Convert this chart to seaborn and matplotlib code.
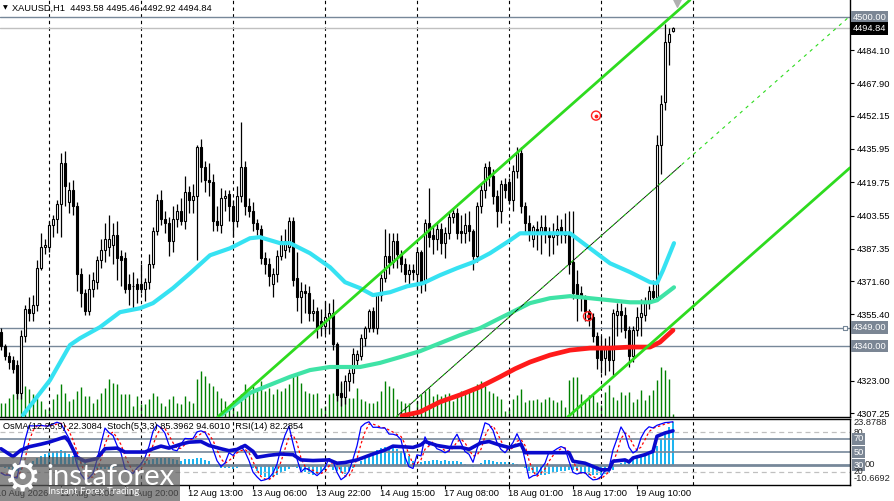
import numpy as np
import pandas as pd
import matplotlib
matplotlib.use("Agg")
import matplotlib.pyplot as plt
import matplotlib.transforms as mtrans
from matplotlib.patches import Rectangle
import seaborn as sns

sns.set_theme(style="white")
plt.rcParams["font.family"] = ["Liberation Sans", "DejaVu Sans"]

# ---------------- data ----------------
symbol = "XAUUSD,H1"
last_ohlc = [4493.58, 4495.46, 4492.92, 4494.84]

opens = [4347, 4340, 4335, 4333, 4331, 4317, 4345, 4358, 4356, 4360,
         4378, 4388, 4388, 4399, 4402, 4409, 4429, 4410, 4416, 4408,
         4375, 4366, 4357, 4368, 4371, 4382, 4387, 4388, 4389, 4394,
         4384, 4383, 4370, 4369, 4370, 4370, 4368, 4371, 4380, 4396,
         4411, 4402, 4400, 4391, 4402, 4406, 4401, 4415, 4411, 4413,
         4437, 4427, 4421, 4420, 4401, 4399, 4412, 4414, 4408, 4401,
         4413, 4427, 4408, 4406, 4400, 4397, 4383, 4380, 4370, 4375,
         4384, 4387, 4388, 4401, 4373, 4364, 4367, 4366, 4356, 4357,
         4352, 4350, 4354, 4356, 4341, 4317, 4315, 4323, 4327, 4333,
         4335, 4344, 4349, 4357, 4349, 4365, 4373, 4384, 4381, 4391,
         4385, 4380, 4375, 4377, 4375, 4386, 4371, 4400, 4394, 4392,
         4397, 4390, 4395, 4403, 4405, 4396, 4395, 4399, 4396, 4384,
         4408, 4416, 4427, 4423, 4413, 4406, 4419, 4420, 4411, 4425,
         4434, 4408, 4400, 4392, 4397, 4395, 4398, 4395, 4393, 4394,
         4398, 4395, 4395, 4381, 4370, 4366, 4364, 4357, 4354, 4345,
         4338, 4334, 4338, 4333, 4355, 4357, 4355, 4348, 4335, 4348,
         4354, 4355, 4361, 4367, 4364, 4438, 4459, 4488, 4493.58]
highs = [4349, 4341, 4337, 4335, 4333, 4348, 4360, 4364, 4365, 4382,
         4395, 4392, 4401, 4404, 4411, 4434, 4435, 4420, 4421, 4410,
         4378, 4368, 4375, 4376, 4384, 4392, 4400, 4404, 4400, 4401,
         4387, 4386, 4375, 4376, 4373, 4380, 4373, 4385, 4398, 4414,
         4416, 4406, 4403, 4408, 4409, 4412, 4423, 4418, 4419, 4438,
         4441, 4430, 4429, 4424, 4408, 4417, 4416, 4416, 4411, 4418,
         4449, 4430, 4412, 4410, 4402, 4399, 4386, 4383, 4378, 4387,
         4394, 4397, 4403, 4403, 4386, 4371, 4370, 4369, 4363, 4359,
         4358, 4362, 4361, 4363, 4342, 4323, 4326, 4329, 4339, 4338,
         4346, 4350, 4358, 4359, 4366, 4375, 4397, 4395, 4395, 4395,
         4387, 4383, 4380, 4380, 4388, 4387, 4402, 4417, 4398, 4400,
         4400, 4398, 4405, 4407, 4407, 4404, 4405, 4406, 4397, 4410,
         4419, 4429, 4430, 4426, 4416, 4421, 4422, 4422, 4428, 4437,
         4437, 4410, 4404, 4399, 4401, 4404, 4404, 4398, 4400, 4404,
         4402, 4405, 4406, 4406, 4377, 4369, 4365, 4358, 4356, 4347,
         4345, 4344, 4345, 4358, 4361, 4361, 4359, 4350, 4350, 4359,
         4363, 4364, 4369, 4372, 4443, 4462, 4497, 4495, 4495.46]
lows = [4338, 4333, 4329, 4327, 4314, 4314, 4342, 4352, 4352, 4357,
        4377, 4385, 4386, 4393, 4395, 4393, 4408, 4405, 4404, 4367,
        4359, 4355, 4355, 4364, 4368, 4378, 4381, 4384, 4380, 4372,
        4369, 4366, 4360, 4358, 4361, 4366, 4362, 4368, 4378, 4394,
        4399, 4395, 4384, 4386, 4398, 4399, 4397, 4405, 4405, 4382,
        4420, 4415, 4413, 4396, 4396, 4395, 4406, 4401, 4393, 4398,
        4410, 4404, 4403, 4396, 4394, 4380, 4375, 4369, 4364, 4371,
        4382, 4383, 4386, 4369, 4357, 4351, 4356, 4352, 4352, 4344,
        4345, 4346, 4346, 4338, 4313, 4311, 4312, 4318, 4322, 4330,
        4333, 4340, 4347, 4347, 4346, 4362, 4371, 4375, 4378, 4378,
        4376, 4371, 4369, 4372, 4368, 4366, 4367, 4388, 4385, 4387,
        4385, 4383, 4392, 4400, 4392, 4390, 4390, 4391, 4377, 4381,
        4405, 4412, 4418, 4409, 4398, 4400, 4412, 4409, 4406, 4422,
        4405, 4395, 4391, 4388, 4387, 4385, 4390, 4384, 4385, 4389,
        4390, 4390, 4375, 4363, 4352, 4357, 4352, 4350, 4342, 4329,
        4327, 4326, 4328, 4326, 4345, 4347, 4344, 4330, 4332, 4345,
        4345, 4352, 4358, 4362, 4362, 4424, 4455, 4477, 4492.92]
closes = [4340, 4335, 4332, 4329, 4317, 4345, 4358, 4356, 4360, 4378,
          4388, 4389, 4399, 4402, 4409, 4429, 4418, 4416, 4408, 4375,
          4366, 4357, 4368, 4372, 4382, 4387, 4392, 4392, 4394, 4383,
          4382, 4368, 4368, 4369, 4368, 4368, 4371, 4380, 4396, 4411,
          4402, 4400, 4391, 4402, 4406, 4401, 4415, 4411, 4413, 4437,
          4427, 4421, 4420, 4401, 4399, 4412, 4413, 4408, 4401, 4413,
          4427, 4408, 4406, 4400, 4397, 4383, 4380, 4374, 4375, 4384,
          4391, 4391, 4401, 4372, 4364, 4367, 4366, 4356, 4357, 4349,
          4350, 4354, 4356, 4341, 4316, 4315, 4323, 4327, 4336, 4336,
          4344, 4349, 4357, 4349, 4365, 4373, 4384, 4381, 4391, 4385,
          4380, 4375, 4377, 4376, 4386, 4371, 4400, 4393, 4392, 4397,
          4390, 4395, 4403, 4405, 4395, 4395, 4399, 4396, 4384, 4408,
          4416, 4427, 4423, 4413, 4406, 4419, 4416, 4411, 4425, 4434,
          4408, 4400, 4395, 4398, 4395, 4398, 4395, 4393, 4395, 4397,
          4395, 4394, 4380, 4366, 4365, 4364, 4357, 4353, 4345, 4334,
          4333, 4339, 4333, 4356, 4357, 4355, 4348, 4335, 4348, 4354,
          4356, 4361, 4367, 4364, 4438, 4458, 4488, 4492, 4494.84]
volumes = [1430, 1430, 1930, 2270, 3430, 3430, 3100, 2770, 2270, 1930,
           1600, 770, 930, 1770, 2270, 3330, 2430, 1600, 1770, 2600,
           3030, 2100, 2100, 1430, 1770, 2430, 2930, 3770, 3430, 3270,
           2270, 2270, 2270, 1100, 2100, 1270, 1270, 1770, 2430, 2100,
           1430, 1100, 1770, 2100, 1430, 1270, 2100, 1600, 1430, 3770,
           4600, 4100, 3430, 3100, 2600, 1930, 1600, 930, 1600, 600,
           2270, 3270, 2270, 3100, 2600, 3600, 2600, 2930, 2270, 2770,
           2600, 2930, 3270, 4270, 4430, 3430, 2600, 2430, 2270, 2430,
           930, 1100, 2270, 2430, 3270, 3430, 2600, 1930, 1930, 2930,
           1770, 1600, 1430, 1430, 1600, 2600, 3600, 3100, 2930, 1770,
           1600, 1430, 1430, 600, 1600, 2270, 2600, 2930, 2100, 2270,
           2100, 2270, 2430, 1600, 2270, 2600, 2430, 2600, 2930, 3270,
           3600, 3100, 2600, 2430, 2100, 1770, 600, 770, 1830, 2170,
           2830, 1500, 1670, 1670, 1830, 1500, 1830, 2000, 1670, 1500,
           1670, 1000, 3670, 4000, 4000, 2330, 1670, 2170, 2170, 1500,
           1170, 2500, 3170, 2000, 1670, 2500, 2170, 2500, 1500, 1830,
           2670, 1670, 2170, 2670, 3670, 5000, 4670, 3830, 300]
osma = [-1.5, -2.0, -2.5, -3.0, -3.5, -3.0, -1.5, 0.3, 2.0, 3.3,
        4.5, 5.5, 6.6, 6.8, 7.3, 7.8, 7.0, 5.8, 4.3, 3.0,
        1.8, 0.6, -0.5, -1.5, -2.2, -2.5, -2.5, -2.2, -1.8, -1.5,
        -1.3, -1.2, -1.0, -0.5, 0.2, 1.0, 1.8, 2.6, 3.1, 3.4,
        3.5, 3.5, 3.5, 3.1, 2.6, 2.1, 2.7, 2.8, 3.1, 3.4,
        3.4, 2.6, 1.7, 0.0, -1.4, -1.8, -1.6, -1.6, -2.1, -1.8,
        -0.9, -0.4, -0.9, -1.8, -3.5, -5.3, -6.7, -7.4, -6.7, -5.6,
        -4.4, -3.2, -2.1, -1.4, -1.8, -2.6, -3.9, -4.9, -5.3, -4.9,
        -4.4, -2.6, -1.4, -2.6, -3.5, -4.4, -4.9, -3.5, -1.8, 0.0,
        1.7, 3.5, 4.9, 6.6, 7.8, 8.7, 9.0, 9.4, 9.0, 8.3,
        7.3, 6.1, 4.3, 2.1, 0.3, 1.4, 1.7, 2.1, 2.4, 2.2,
        2.1, 2.2, 2.1, 2.1, 1.7, 1.4, 0.3, 0.0, -1.4, -0.4,
        0.8, 2.2, 2.6, 2.1, 1.4, 1.2, 1.2, 1.2, 0.6, 0.3,
        -0.9, -1.8, -3.2, -4.4, -5.3, -5.6, -5.3, -4.9, -4.4, -3.9,
        -3.5, -3.2, -2.6, -2.6, -3.2, -3.9, -4.6, -5.3, -5.6, -5.6,
        -5.6, -4.9, -4.4, -2.6, -0.9, 0.8, 2.1, 2.6, 3.5, 3.8,
        4.3, 4.9, 5.2, 6.5, 10.0, 13.5, 16.5, 19.5, 22.3]

rsi_bar = [0, 3, 5, 7, 10, 12, 14, 16, 17, 19, 21, 24, 26, 29, 31, 36, 38, 40, 42,
           45, 47, 50, 52, 55, 57, 59, 61, 63, 64, 67, 70, 73, 75, 78, 82, 84, 86,
           89, 93, 96, 98, 103, 105, 106, 109, 112, 115, 117, 120, 122, 125, 127,
           130, 131, 142, 143, 146, 148, 150, 152, 153, 156, 157, 158, 161, 163,
           164, 166, 168]
rsi_val = [55, 43, 53, 58, 62, 65, 69, 73, 66, 42, 36, 40, 55, 56, 50, 50, 55, 59, 56,
           62, 65, 66, 60, 55, 52, 54, 60, 51, 42, 45, 47, 46, 38, 37, 38, 33, 34,
           38, 47, 53, 59, 57, 61, 66, 60, 57, 57, 54, 64, 66, 60, 57,
           62, 49, 49, 36, 33, 28, 23, 23, 36, 38, 35, 41, 46, 51,
           74, 79, 82.3]

ma_fast_bar = [5.5, 12.25, 17.25, 19.75, 24.75, 29.75, 34.75, 38, 43, 47.25, 52.25,
               57.25, 62.25, 64.75, 69.75, 72.25, 77.25, 82.25, 86, 89.75, 93, 97.25,
               101.5, 105.5, 109.75, 114, 118, 122.25, 127.25, 129.75, 142.25, 147.25,
               152.25, 157.25, 162.25, 164, 165.5, 168.25]
ma_fast_val = [4306.4, 4323.4, 4340.5, 4343.8, 4349.2, 4356.5, 4358.4, 4360.9, 4368.2,
               4375.4, 4384.2, 4387.6, 4392.5, 4393.0, 4390.1, 4390.1, 4385.2, 4378.4,
               4371.1, 4368.2, 4364.8, 4366.2, 4369.1, 4370.6, 4374.5, 4377.9, 4380.8,
               4385.2, 4391.5, 4394.9, 4394.9, 4387.6, 4380.3, 4376.0, 4371.1, 4370.6,
               4376.9, 4390.1]
ma_mid_bar = [54.75, 62.25, 67.25, 72.25, 77.25, 82.25, 89.75, 94.75, 99.75, 104.75,
              109.75, 114.75, 119.75, 124.75, 127.25, 132.25, 137.25, 142.25, 147.25,
              152.25, 157.25, 162.25, 164, 168.25]
ma_mid_val = [4306.0, 4317.2, 4321.1, 4325.0, 4328.3, 4329.8, 4329.8, 4331.8, 4334.6,
              4337.5, 4341.4, 4345.3, 4348.7, 4353.6, 4356.0, 4360.9, 4363.3, 4364.3,
              4363.3, 4362.3, 4361.3, 4361.3, 4362.3, 4368.6]
ma_slow_bar = [100.25, 104.75, 109.75, 114.75, 119.75, 124.75, 128.5, 132.25, 137.25,
               142.25, 147.25, 152.25, 157.25, 162.25, 164.75, 168]
ma_slow_val = [4306.0, 4307.9, 4312.8, 4316.2, 4320.1, 4325.0, 4328.9, 4332.2, 4335.6,
               4338.0, 4339.0, 4339.0, 4339.5, 4339.5, 4341.9, 4347.7]

# equidistant channel: anchor (bar, price) of upper, lower, middle lines, common slope
chan_bar = [54.75, 142.25, 99.0]
chan_price = [4306.4, 4306.4, 4305.9]
chan_slope = 1.72

hlines = [4500.00, 4349.00, 4340.00]
bid = 4494.84
marker_bar = [148.75, 146.75]
marker_price = [4452.2, 4354.5]

price_ticks = [4484.10, 4467.90, 4452.15, 4435.95, 4419.75, 4403.55, 4387.35,
               4371.60, 4355.40, 4323.00, 4307.25]
day_start_bars = [12, 35, 58, 81, 104, 127, 150, 173]
time_tick_bars = [-1, 15, 31, 47, 63, 79, 95, 111, 127, 143, 159]
time_tick_labels = ["10 Aug 2026", "11 Aug 04:00", "11 Aug 20:00", "12 Aug 13:00",
                    "13 Aug 06:00", "13 Aug 22:00", "14 Aug 15:00", "17 Aug 08:00",
                    "18 Aug 01:00", "18 Aug 17:00", "19 Aug 10:00"]
osc_levels = [80, 70, 50, 30, 20]
osma_range = [-10.6692, 23.8788]
ind_label = "OsMA(12,26,9) 22.3084  Stoch(5,3,3) 85.3962 94.6010  RSI(14) 82.2854"

# ---------------- derived ----------------
bars = np.arange(len(closes))
o = np.array(opens, float); c = np.array(closes, float)
h = np.array(highs, float); l = np.array(lows, float)
hh = pd.Series(h).rolling(5, min_periods=1).max()
ll = pd.Series(l).rolling(5, min_periods=1).min()
stoch_k = 100 * (pd.Series(c) - ll).rolling(3, min_periods=1).sum() / \
    (hh - ll).rolling(3, min_periods=1).sum()
stoch_d = stoch_k.rolling(3, min_periods=1).mean()

# ---------------- figure ----------------
W, H = 895, 501
fig = plt.figure(figsize=(W / 100, H / 100), dpi=100, facecolor="white")
XR = 850 / W
rect_main = [0, 1 - 417 / H, XR, 417 / H]
rect_low = [0, 1 - 485 / H, XR, 66 / H]
xlim = (-0.25, 212.25)

ax_vol = fig.add_axes(rect_main, label="vol")
ax = fig.add_axes(rect_main, label="main")
ax.patch.set_alpha(0)
ax_os = fig.add_axes(rect_low, label="osma")
ax_low = fig.add_axes(rect_low, label="osc")
ax_low.patch.set_alpha(0)

for a in (ax_vol, ax, ax_os, ax_low):
    a.set_xlim(*xlim)

# volume
ax_vol.vlines(bars, 0, volumes, color="#008000", lw=1.0)
ax_vol.set_ylim(0, 41700)
ax_vol.axis("off")

# main
ax.set_ylim(4305.45, 4508.5)
for d in day_start_bars:
    ax.axvline(d, color="black", lw=0.8, ls=(0, (3, 3)), zorder=1)
ax.axhline(hlines[0], color="#778899", lw=1.0, zorder=1)
ax.axhline(bid, color="#C0C0C0", lw=1.0, zorder=1)
ax.axhline(hlines[1], color="#778899", lw=1.0, zorder=1)
ax.axhline(hlines[2], color="#778899", lw=1.0, zorder=1)

# candles
ax.vlines(bars, l, h, color="black", lw=0.9, zorder=3)
up = c >= o
body = np.maximum(np.abs(c - o), 0.35)
ax.bar(bars[up], body[up], bottom=np.minimum(o, c)[up], width=0.55,
       color="white", edgecolor="black", linewidth=0.8, zorder=4)
ax.bar(bars[~up], body[~up], bottom=np.minimum(o, c)[~up], width=0.55,
       color="black", edgecolor="black", linewidth=0.8, zorder=4)

# moving averages
sns.lineplot(x=ma_mid_bar, y=ma_mid_val, ax=ax, color="#3FE3A6", lw=3.0,
             estimator=None, sort=False, zorder=5)
sns.lineplot(x=ma_fast_bar, y=ma_fast_val, ax=ax, color="#36E2F2", lw=3.0,
             estimator=None, sort=False, zorder=5)
sns.lineplot(x=ma_slow_bar, y=ma_slow_val, ax=ax, color="#FF1A1A", lw=3.4,
             estimator=None, sort=False, zorder=5)

# channel
ax.axline((chan_bar[0], chan_price[0]), slope=chan_slope, color="#2EDB1F", lw=2.0, zorder=6)
ax.axline((chan_bar[1], chan_price[1]), slope=chan_slope, color="#2EDB1F", lw=2.0, zorder=6)
mid_end = bars[-1] + 2
ax.plot([chan_bar[2], mid_end],
        [chan_price[2], chan_price[2] + chan_slope * (mid_end - chan_bar[2])],
        color="black", lw=0.6, zorder=6)
ax.axline((chan_bar[2], chan_price[2]), slope=chan_slope, color="#2EDB1F", lw=0.8,
          ls=(0, (3, 4)), zorder=6)

# markers
ax.scatter(marker_bar, marker_price, s=42, facecolors="none", edgecolors="#FF2020",
           linewidths=1.0, zorder=7)
ax.scatter(marker_bar, marker_price, s=3, color="#FF2020", zorder=7)
ax.scatter([bars[-1] + 1], [4507.2], marker="v", s=30, color="#B0B0B0", zorder=7,
           clip_on=False)

ax.set_xticks([])
ax.yaxis.tick_right()
ax.set_yticks(price_ticks)
ax.set_yticklabels([f"{v:.2f}" for v in price_ticks])
ax.tick_params(axis="y", which="major", right=True, labelright=True, left=False,
               labelleft=False, length=3, width=0.8, pad=2, colors="black",
               labelsize=6.7, direction="out")
for s in ("top", "left"):
    ax.spines[s].set_visible(False)
for s in ("right", "bottom"):
    ax.spines[s].set_color("black")
    ax.spines[s].set_linewidth(1.0)
ax.set_xlabel(""); ax.set_ylabel("")

blend = mtrans.blended_transform_factory(ax.transAxes, ax.transData)
ax.text(1.003, hlines[0], f"{hlines[0]:.2f}", transform=blend, ha="left", va="center",
        fontsize=6.7, color="white", bbox=dict(facecolor="#7B8694", edgecolor="none", pad=1.4))
ax.text(1.003, bid, f"{bid:.2f}", transform=blend, ha="left", va="center",
        fontsize=6.7, color="white", bbox=dict(facecolor="black", edgecolor="none", pad=1.4))
for v in hlines[1:]:
    ax.text(1.003, v, f"{v:.2f}", transform=blend, ha="left", va="center",
            fontsize=6.7, color="white", bbox=dict(facecolor="#7B8694", edgecolor="none", pad=1.4))
ax.scatter([210.9], [hlines[1]], marker="s", s=10, facecolors="white",
           edgecolors="#778899", linewidths=0.8, zorder=7, clip_on=False)

# title
fig.text(3 / W, 1 - 8 / H, "\u25BC", fontsize=4.5, color="black", va="center",
         family=["DejaVu Sans"])
fig.text(12 / W, 1 - 8 / H,
         f"{symbol}  " + " ".join(f"{v:.2f}" for v in last_ohlc),
         fontsize=6.7, color="black", va="center")

# ---------------- oscillator panel ----------------
ax_os.bar(bars, osma, width=0.72, color="#1EB4F0", edgecolor="none", linewidth=0,
          zorder=2)
ax_os.set_ylim(*osma_range)
ax_os.axis("off")

ax_low.set_ylim(-0.2, 100.3)
for d in day_start_bars:
    ax_low.axvline(d, color="black", lw=0.8, ls=(0, (3, 3)), zorder=1)
for lv in osc_levels:
    if lv in (80, 20):
        ax_low.axhline(lv, color="#C0C0C0", lw=0.9, ls=(0, (4, 3)), zorder=1)
    elif lv == 30:
        ax_low.axhline(lv, color="#778899", lw=2.0, zorder=1)
    else:
        ax_low.axhline(lv, color="#778899", lw=1.2, zorder=1)
sns.lineplot(x=bars, y=stoch_d.values, ax=ax_low, color="#FF0000", lw=0.9,
             estimator=None, sort=False, zorder=4)
ax_low.lines[-1].set_linestyle((0, (2, 2)))
sns.lineplot(x=bars, y=stoch_k.values, ax=ax_low, color="#0000FF", lw=0.9,
             estimator=None, sort=False, zorder=5)
sns.lineplot(x=rsi_bar, y=rsi_val, ax=ax_low, color="#0A0ACD", lw=2.6,
             estimator=None, sort=False, zorder=6)
ax_low.set_xlabel(""); ax_low.set_ylabel("")
ax_low.set_yticks([])
ax_low.set_xticks(time_tick_bars[1:])
ax_low.set_xticklabels([])
ax_low.tick_params(axis="x", bottom=True, length=3, width=0.8, direction="out",
                   colors="black")
ax_low.spines["left"].set_visible(False)
for s in ("right", "bottom", "top"):
    ax_low.spines[s].set_color("black")
    ax_low.spines[s].set_linewidth(1.0)

ax_low.text(0.004, 0.88, ind_label, transform=ax_low.transAxes, fontsize=6.7,
            color="black", va="center", ha="left", zorder=8)

bl = mtrans.blended_transform_factory(ax_low.transAxes, ax_low.transData)
bo = mtrans.blended_transform_factory(ax_os.transAxes, ax_os.transData)
ax_low.text(1.004, 80, "80", transform=bl, fontsize=6.2, va="center", ha="left", clip_on=False)
ax_os.text(1.004, 22.0, f"{osma_range[1]:.4f}", transform=bo, fontsize=6.7,
           va="center", ha="left", clip_on=False)
for lv in (70, 50, 30):
    ax_low.text(1.004, lv, f"{lv}", transform=bl, fontsize=6.7, va="center", ha="left",
                color="white", clip_on=False,
                bbox=dict(facecolor="#7B8694", edgecolor="none", pad=1.0))
ax_os.text(1.0175, 0.0, "00", transform=bo, fontsize=6.7, va="center", ha="left", clip_on=False)
ax_low.text(1.004, 20.5, "20", transform=bl, fontsize=6.2, va="center", ha="left", clip_on=False)
ax_os.text(1.004, -7.3, f"{osma_range[0]:.4f}", transform=bo, fontsize=6.7,
           va="center", ha="left", clip_on=False)

# time labels
bx = mtrans.blended_transform_factory(ax_low.transData, ax_low.transAxes)
for b, lab in zip(time_tick_bars, time_tick_labels):
    ax_low.text(b - 0.2, -0.125, lab, transform=bx, fontsize=6.7, color="black",
                ha="left", va="center", clip_on=False)

# ---------------- watermark ----------------
fig.patches.append(Rectangle((0, 0), 180 / W, 44 / H, transform=fig.transFigure,
                             facecolor="#5a5a5a", alpha=0.7, edgecolor="none", zorder=20))
fig.text(22 / W, 1 - 479 / H, "\u2699", fontsize=30, color="white", ha="center",
         va="center", family=["DejaVu Sans"], zorder=21)
fig.text(46 / W, 1 - 485 / H, "instaforex", fontsize=21, color="white", ha="left",
         va="baseline", family=["Lato", "DejaVu Sans"], zorder=21)
fig.text(48 / W, 1 - 492 / H, "Instant Forex Trading", fontsize=7, color="white",
         ha="left", va="center", family=["Lato", "DejaVu Sans"], zorder=21)

fig.savefig("out.png", dpi=100, facecolor="white")
